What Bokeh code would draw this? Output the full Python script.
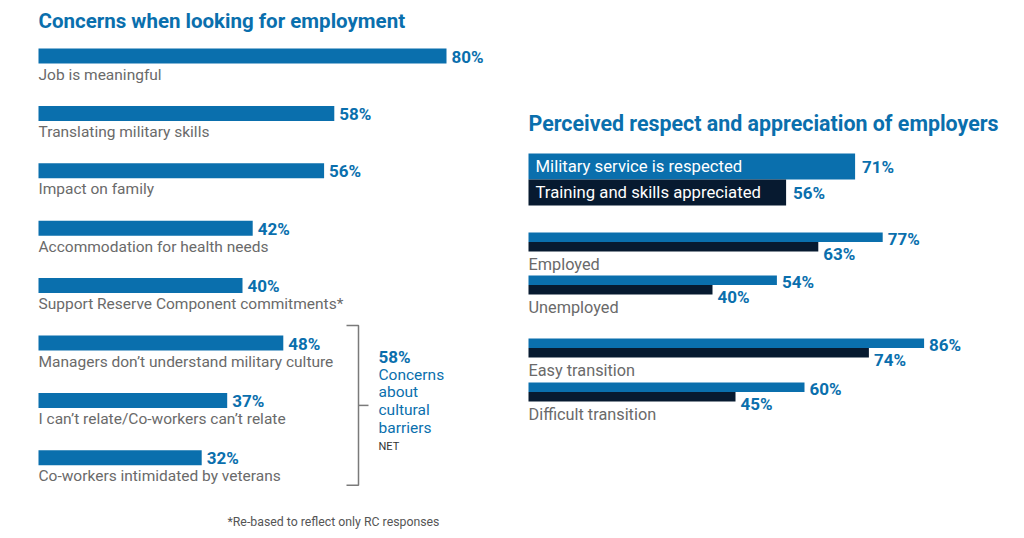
from bokeh.plotting import figure
from bokeh.models import Range1d, ColumnDataSource
from bokeh.core.properties import value
from bokeh.embed import file_html
from bokeh.resources import INLINE

# ---------------- data ----------------
left_title = "Concerns when looking for employment"
left_labels = [
    "Job is meaningful",
    "Translating military skills",
    "Impact on family",
    "Accommodation for health needs",
    "Support Reserve Component commitments*",
    "Managers don\u2019t understand military culture",
    "I can\u2019t relate/Co-workers can\u2019t relate",
    "Co-workers intimidated by veterans",
]
left_values = [80, 58, 56, 42, 40, 48, 37, 32]
net_value = 58
net_lines = ["Concerns", "about", "cultural", "barriers"]
net_tag = "NET"
footnote = "*Re-based to reflect only RC responses"

right_title = "Perceived respect and appreciation of employers"
series_names = ["Military service is respected", "Training and skills appreciated"]
series_overall = [71, 56]
groups = ["Employed", "Unemployed", "Easy transition", "Difficult transition"]
respected = [77, 54, 86, 60]
appreciated = [63, 40, 74, 45]

# ---------------- style / layout ----------------
BLUE = "#0a6fad"
NAVY = "#071a30"
GRAY = "#6a6a6a"
FONT = value("Roboto")
W, H = 1024, 538

L_X0, L_PX = 38, 5.1       # left panel: 0% at x=38, px per %
R_X0, R_PX = 528, 4.6      # right panel: 0% at x=528, px per %
ROW0, ROW_STEP, BAR_H = 55.5, 57.4, 15
LEG_Y0, LEG_H = 166, 26
GROUP_TOPS = [232, 275, 338, 382]
SUB_H = 9.5

p = figure(width=W, height=H, output_backend="svg", toolbar_location=None,
           x_range=Range1d(-L_X0 / L_PX, (W - L_X0) / L_PX),
           y_range=Range1d(H, 0), min_border=0,
           x_axis_location=None, y_axis_location=None,
           outline_line_color=None, background_fill_color="white",
           border_fill_color="white")
p.grid.grid_line_color = None
p.extra_x_ranges = {"right": Range1d(-R_X0 / R_PX, (W - R_X0) / R_PX),
                    "px": Range1d(0, W)}

# ---------------- left panel ----------------
rows_y = [ROW0 + ROW_STEP * i for i in range(len(left_values))]
lsrc = ColumnDataSource(dict(
    y=rows_y, v=left_values, lab=left_labels,
    vtxt=[f"{v}%" for v in left_values],
    ylab=[y + 18.5 for y in rows_y],
    yv=[y + 0.5 for y in rows_y],
    zero=[0] * len(rows_y),
))
p.hbar(y="y", left=0, right="v", height=BAR_H, source=lsrc,
       fill_color=BLUE, line_color=None)
p.text(x="v", y="yv", text="vtxt", source=lsrc, x_offset=5,
       text_font=FONT, text_font_size="17px", text_font_style="bold",
       text_color=BLUE, text_baseline="middle", text_align="left")
p.text(x="zero", y="ylab", text="lab", source=lsrc,
       text_font=FONT, text_font_size="15.5px", text_color=GRAY,
       text_baseline="middle", text_align="left")

p.text(x=[L_X0], y=[20], text=[left_title], x_range_name="px",
       text_font=FONT, text_font_size="20.5px", text_font_style="bold",
       text_color=BLUE, text_baseline="middle", text_align="left")

# bracket for cultural barriers NET
b_top = rows_y[5] - 17.5
b_bot = rows_y[7] + 27.5
b_mid = (b_top + b_bot) / 2
BX = 358
p.multi_line(xs=[[BX - 12, BX, BX, BX - 12], [BX, BX + 10]],
             ys=[[b_top, b_top, b_bot, b_bot], [b_mid, b_mid]],
             x_range_name="px", line_color="#7a7a7a", line_width=1.5)
p.text(x=[378], y=[356], text=[f"{net_value}%"], x_range_name="px",
       text_font=FONT, text_font_size="17px", text_font_style="bold",
       text_color=BLUE, text_baseline="middle", text_align="left")
p.text(x=[378] * len(net_lines), y=[374 + 17.7 * i for i in range(len(net_lines))],
       text=net_lines, x_range_name="px",
       text_font=FONT, text_font_size="15.5px",
       text_color=BLUE, text_baseline="middle", text_align="left")
p.text(x=[378], y=[446], text=[net_tag], x_range_name="px",
       text_font=FONT, text_font_size="11px", text_color="#333333",
       text_baseline="middle", text_align="left")

p.text(x=[227], y=[521], text=[footnote], x_range_name="px",
       text_font=FONT, text_font_size="12.3px", text_color="#555555",
       text_baseline="middle", text_align="left")

# ---------------- right panel ----------------
p.text(x=[R_X0], y=[123], text=[right_title], x_range_name="px",
       text_font=FONT, text_font_size="21.4px", text_font_style="bold",
       text_color=BLUE, text_baseline="middle", text_align="left")

leg_y = [LEG_Y0, LEG_Y0 + LEG_H]
legsrc = ColumnDataSource(dict(
    y=leg_y, v=series_overall, name=series_names,
    vtxt=[f"{v}%" for v in series_overall],
    col=[BLUE, NAVY], zero=[0, 0],
))
p.hbar(y="y", left=0, right="v", height=LEG_H, source=legsrc,
       fill_color="col", line_color=None, x_range_name="right")
p.text(x="zero", y="y", text="name", source=legsrc, x_range_name="right",
       x_offset=7, text_font=FONT, text_font_size="16.7px", text_color="white",
       text_baseline="middle", text_align="left")
p.text(x="v", y="y", text="vtxt", source=legsrc, x_range_name="right",
       x_offset=7, text_font=FONT, text_font_size="17px", text_font_style="bold",
       text_color=BLUE, text_baseline="middle", text_align="left")

gsrc = ColumnDataSource(dict(
    yb=[t + SUB_H / 2 for t in GROUP_TOPS],
    yd=[t + SUB_H * 1.5 for t in GROUP_TOPS],
    yvb=[t + 6.5 for t in GROUP_TOPS],
    yvd=[t + 21.5 for t in GROUP_TOPS],
    ylab=[t + 31.5 for t in GROUP_TOPS],
    r=respected, a=appreciated,
    rt=[f"{v}%" for v in respected], at=[f"{v}%" for v in appreciated],
    lab=groups, zero=[0] * len(groups),
))
p.hbar(y="yb", left=0, right="r", height=SUB_H, source=gsrc,
       fill_color=BLUE, line_color=None, x_range_name="right")
p.hbar(y="yd", left=0, right="a", height=SUB_H, source=gsrc,
       fill_color=NAVY, line_color=None, x_range_name="right")
p.text(x="r", y="yvb", text="rt", source=gsrc, x_range_name="right", x_offset=5,
       text_font=FONT, text_font_size="17px", text_font_style="bold",
       text_color=BLUE, text_baseline="middle", text_align="left")
p.text(x="a", y="yvd", text="at", source=gsrc, x_range_name="right", x_offset=5,
       text_font=FONT, text_font_size="17px", text_font_style="bold",
       text_color=BLUE, text_baseline="middle", text_align="left")
p.text(x="zero", y="ylab", text="lab", source=gsrc, x_range_name="right",
       text_font=FONT, text_font_size="16.3px", text_color=GRAY,
       text_baseline="middle", text_align="left")

open("out.html", "w").write(file_html(p, INLINE))
